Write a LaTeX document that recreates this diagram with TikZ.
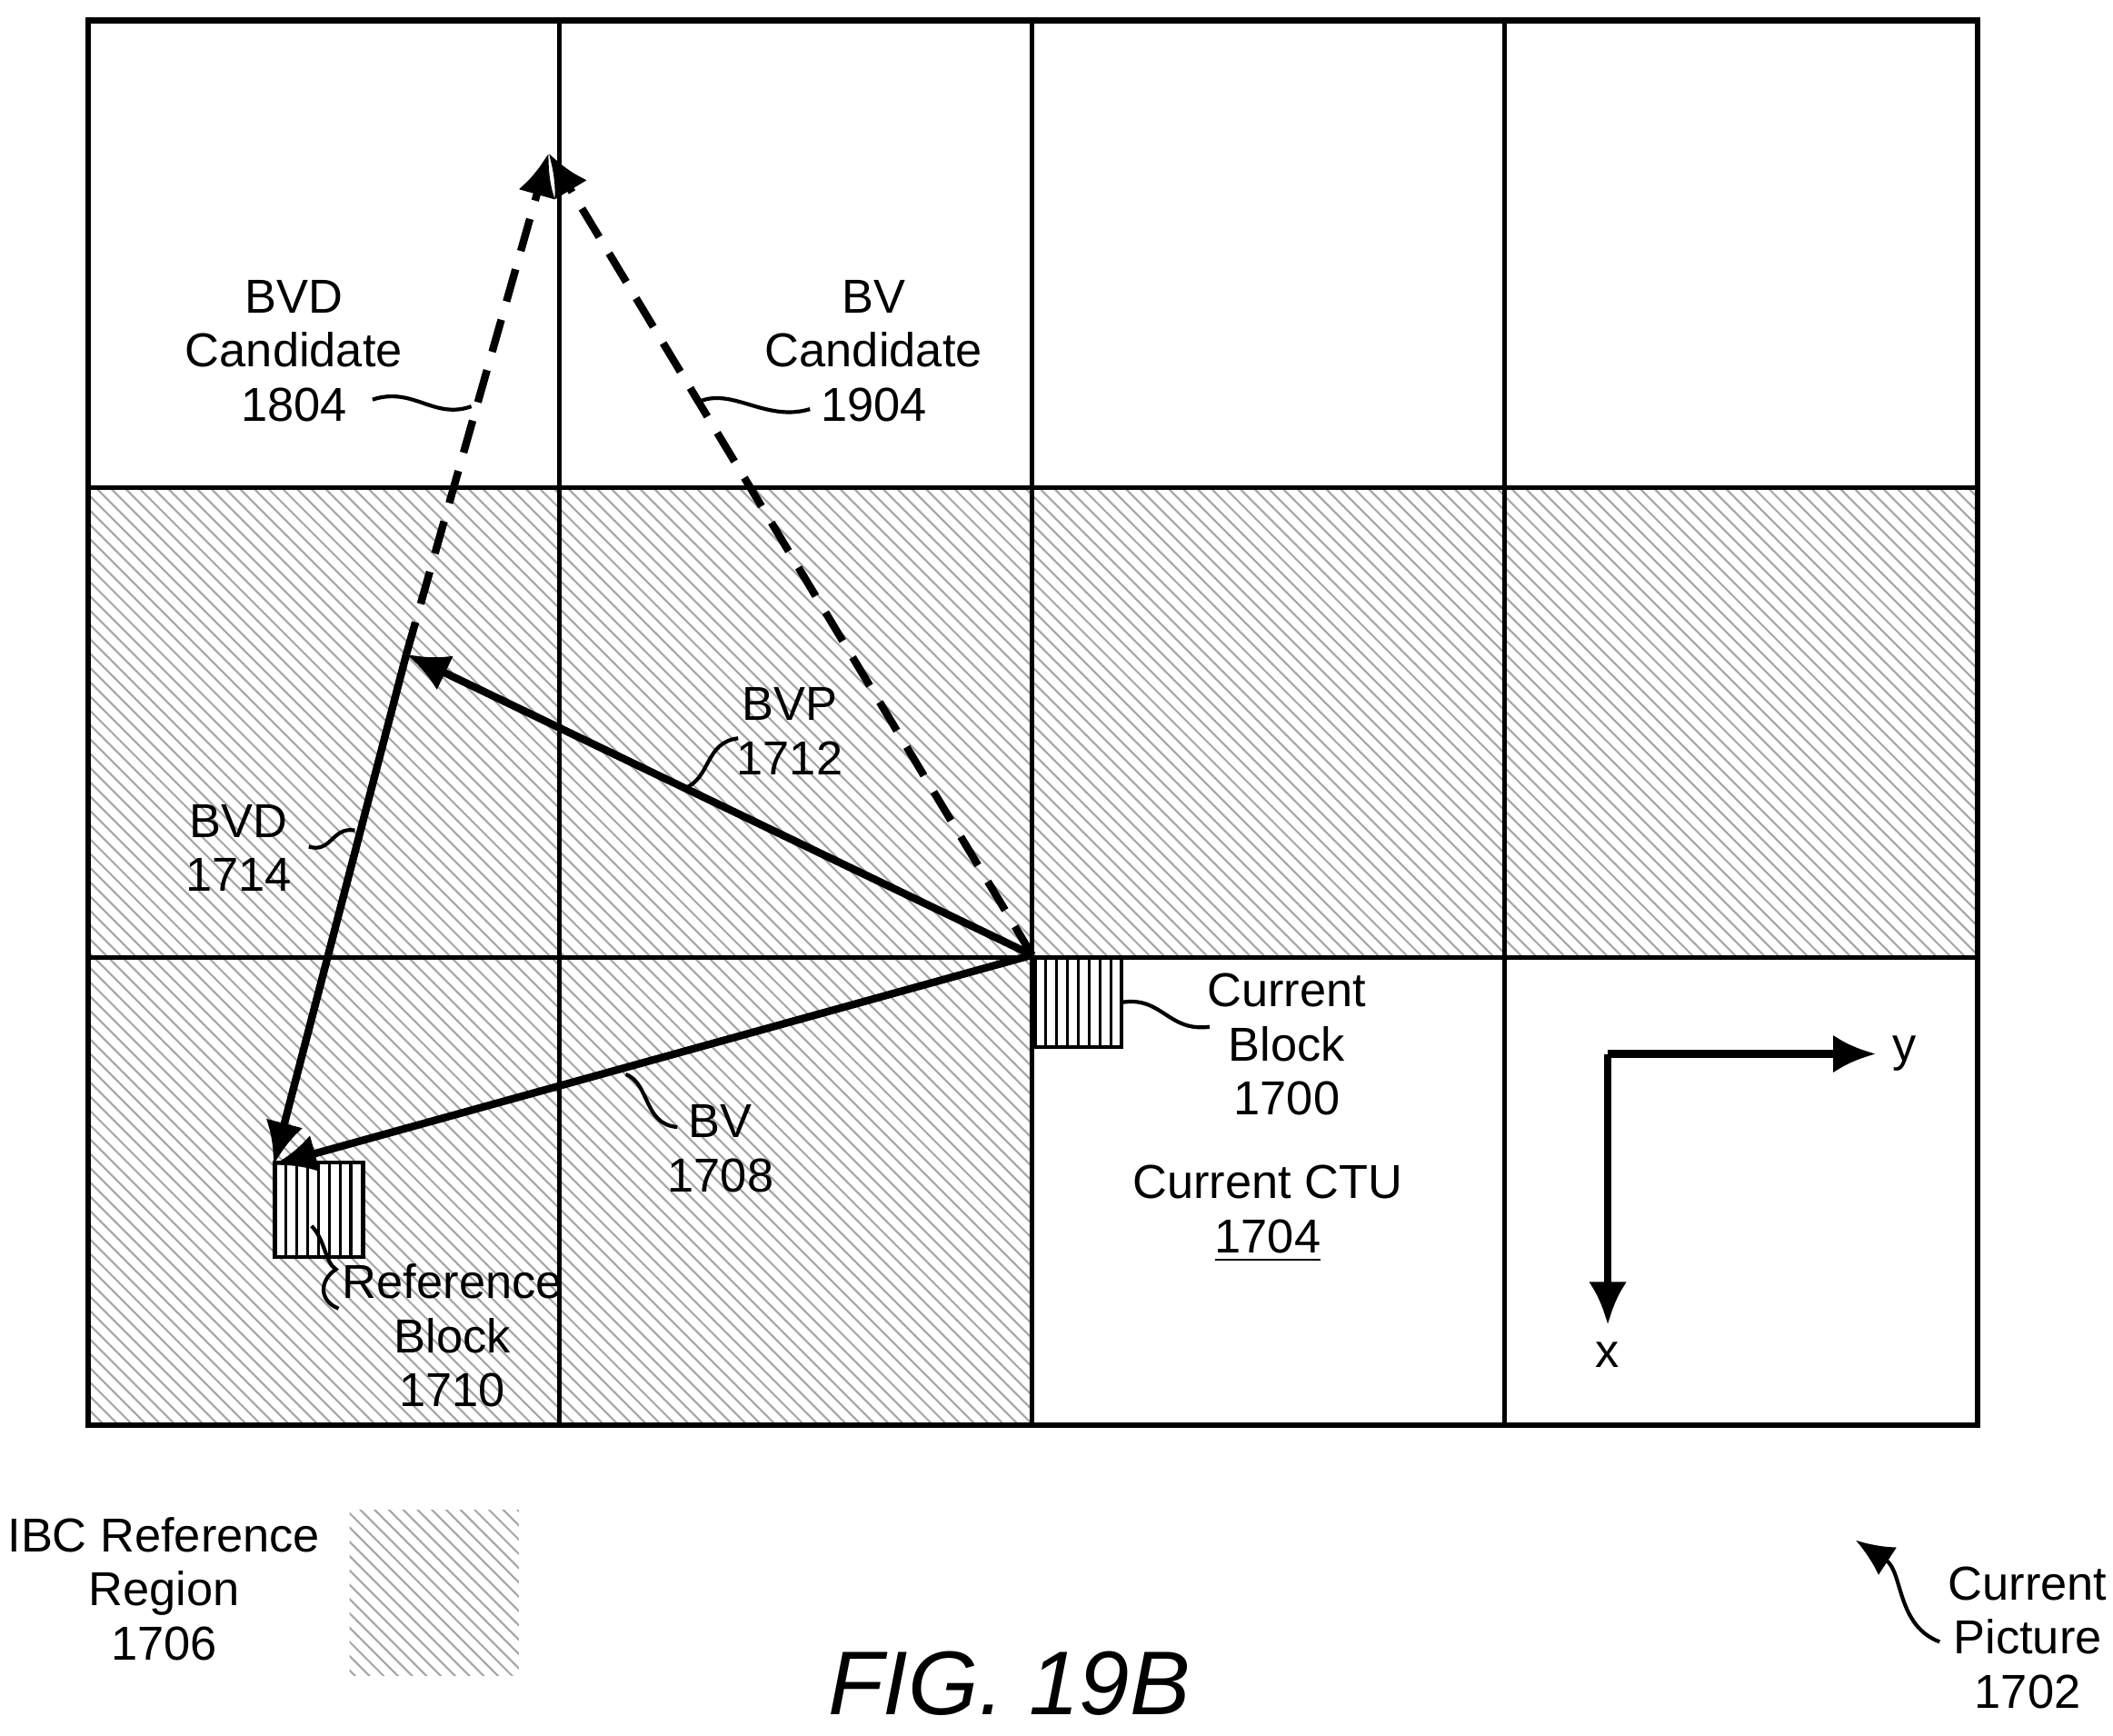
\documentclass[tikz,border=0pt]{standalone}
\usepackage{fontspec}
\setmainfont{Liberation Sans}
\usetikzlibrary{patterns,arrows.meta}
\begin{document}
\begin{tikzpicture}[x=0.01cm,y=-0.01cm,
 lbl/.style={align=center,font=\fontsize{10pt}{11.4pt}\selectfont},
 hatch/.style={pattern=north west lines,pattern color=gray!70},
 vec/.style={line width=1.6pt,-{Latex[length=9pt,width=8pt]}},
 dvec/.style={line width=1.6pt,dash pattern=on 7pt off 4pt,-{Latex[length=9pt,width=8pt]}},
 sq/.style={line width=0.8pt}]
\useasboundingbox (0,0) rectangle (1560,1281);
\fill[hatch] (65,360) rectangle (1460,707);
\fill[hatch] (65,707) rectangle (762,1052);
\fill[hatch] (258,1115) rectangle (383,1237);
\draw[line width=1.2pt] (65,15) rectangle (1460,1052);
\foreach \x in {413,762,1111} \draw[line width=1pt] (\x,15) -- (\x,1052);
\foreach \y in {360,707} \draw[line width=1pt] (65,\y) -- (1460,\y);
% blocks
\draw[fill=white,line width=0.8pt] (764,707) rectangle (828,773);
\foreach \x in {772,780,...,820} \draw[line width=0.6pt] (\x,707) -- (\x,773);
\draw[fill=white,line width=0.8pt] (203,858) rectangle (268,928);
\foreach \x in {211,219,...,261} \draw[line width=0.6pt] (\x,858) -- (\x,928);
% coordinates
\coordinate (O) at (762,705);
\coordinate (P) at (300,483);
\coordinate (R) at (202,860);
\coordinate (T) at (405,113);
\draw[vec] (O) -- (P);
\draw[vec] (P) -- (R);
\draw[vec] (O) -- (R);
\draw[dvec] (P) -- (T);
\draw[dvec] (O) -- (T);
% axes
\coordinate (A) at (1187,778);
\coordinate (Ay) at (1385,778);
\coordinate (Ax) at (1187,978);
\draw[vec] (A) -- (Ay);
\draw[vec] (A) -- (Ax);
\node[lbl] (ly) at (1406,778) {y};
\node[lbl] (lx) at (1187,1000) {x};
% labels
\node[lbl] (bvdc) at (217,259) {BVD\\Candidate\\1804};
\node[lbl] (bvc) at (645,259) {BV\\Candidate\\1904};
\node[lbl] (bvp) at (583,540) {BVP\\1712};
\node[lbl] (bvd) at (176,626) {BVD\\1714};
\node[lbl] (bv) at (532,848) {BV\\1708};
\node[lbl] (cb) at (950,771) {Current\\Block\\1700};
\node[lbl] (ctu) at (936,896) {Current CTU\\\underline{1704}};
\node[lbl] (rb) at (334,986) {Reference\\Block\\1710};
\node[lbl] (ibc) at (121,1173) {IBC Reference\\Region\\1706};
\node[lbl] (cp) at (1497,1209) {Current\\Picture\\1702};
\node[font=\fontsize{19pt}{22pt}\selectfont\itshape] (fig) at (745,1243) {FIG. 19B};
% squiggles
\draw[sq] (275,295) .. controls (305,285) and (320,310) .. (348,300);
\draw[sq] (515,297) .. controls (540,285) and (565,312) .. (598,302);
\draw[sq] (505,582) .. controls (525,575) and (520,548) .. (545,545);
\draw[sq] (228,625) .. controls (245,630) and (245,610) .. (262,613);
\draw[sq] (462,793) .. controls (480,800) and (475,830) .. (500,832);
\draw[sq] (828,740) .. controls (858,735) and (862,762) .. (893,758);
\draw[sq] (230,905) .. controls (240,915) and (240,932) .. (248,937) .. controls (236,945) and (235,960) .. (250,966);
\draw[sq,-{Latex[length=8pt,width=7pt]}] (1432,1212) .. controls (1400,1200) and (1405,1160) .. (1370,1137);
\end{tikzpicture}
\end{document}
